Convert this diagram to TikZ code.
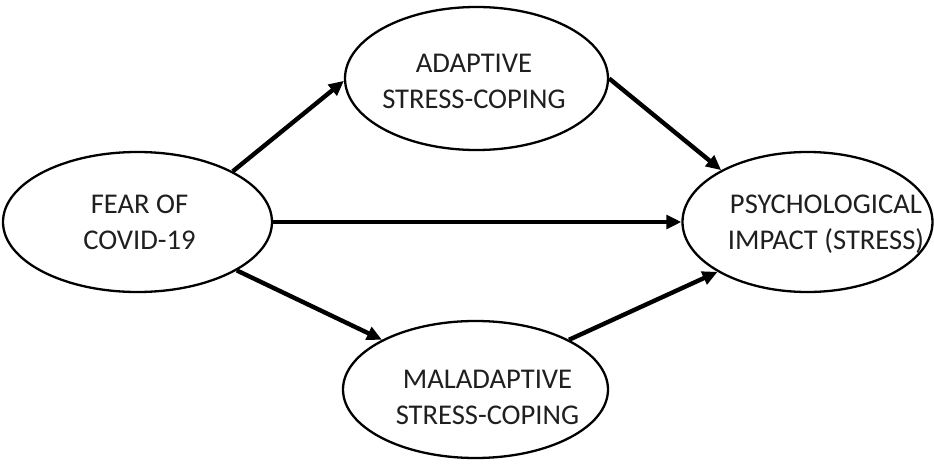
\documentclass[tikz,border=0pt]{standalone}
\usepackage{fontspec}
\setmainfont{Carlito}
\usetikzlibrary{shapes.geometric,arrows.meta}

\begin{document}
\begin{tikzpicture}[x=0.5pt,y=-0.5pt,
	bubble/.style={draw,ellipse,line width=1.15pt,inner sep=0pt},
	words/.style={align=center,inner sep=0pt,text=black!88,font=\fontsize{14.3}{18}\selectfont},
	link/.style={line width=2.2pt,-{Triangle[length=7.5pt,width=6.8pt]}}]
\useasboundingbox (0,0) rectangle (934,466);
% the four ellipses
\node[bubble,minimum width=134.5pt,minimum height=70pt] (fear) at (137.5,222) {};
\node[bubble,minimum width=131.5pt,minimum height=71.5pt] (adapt) at (476.5,78.5) {};
\node[bubble,minimum width=132.5pt,minimum height=68.5pt] (maladapt) at (475.5,389.5) {};
\node[bubble,minimum width=125pt,minimum height=70pt] (impact) at (807.5,222) {};
% their texts
\node[words] (feartxt) at (139.5,222.5) {FEAR OF\\COVID-19};
\node[words] (adapttxt) at (474,81.5) {ADAPTIVE\\STRESS-COPING};
\node[words] (maladapttxt) at (487.5,397) {MALADAPTIVE\\STRESS-COPING};
\node[words] (impacttxt) at (826,224) {PSYCHOLOGICAL\\IMPACT (STRESS)};
% paths
\draw[link] (fear.28.6) -- (adapt.181.5);
\draw[link] (fear.-26.7) -- (maladapt.152.6);
\draw[link] (fear.east) -- (impact.west);
\draw[link] (adapt.east) -- (impact.149.7);
\draw[link] (maladapt.28.1) -- (impact.209.3);
\end{tikzpicture}
\end{document}
